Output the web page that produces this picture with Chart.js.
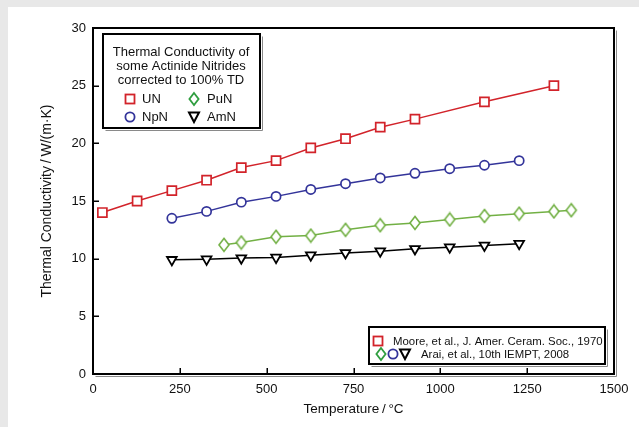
<!DOCTYPE html>
<html><head><meta charset="utf-8">
<script src="https://cdn.jsdelivr.net/npm/chart.js@4.4.1/dist/chart.umd.min.js"></script>
<style>html,body{margin:0;padding:0;background:#fff;overflow:hidden}#wrap{width:639px;height:427px;position:relative}</style>
</head><body><div id="wrap"><canvas id="c" width="639" height="427"></canvas></div>
<script>
// ---- data ----
const unTemps  = [27,127,227,327,427,527,627,727,827,927,1127,1327];
const unK      = [14.0,15.0,15.9,16.8,17.9,18.5,19.6,20.4,21.4,22.1,23.6,25.0];
const npnTemps = [227,327,427,527,627,727,827,927,1027,1127,1227];
const npnK     = [13.5,14.1,14.9,15.4,16.0,16.5,17.0,17.4,17.8,18.1,18.5];
const punTemps = [377,427,527,627,727,827,927,1027,1127,1227,1327,1377];
const punK     = [11.2,11.4,11.9,12.0,12.5,12.9,13.1,13.4,13.7,13.9,14.1,14.2];
const amnTemps = [227,327,427,527,627,727,827,927,1027,1127,1227];
const amnK     = [9.9,9.95,10.05,10.1,10.3,10.5,10.65,10.85,11.0,11.15,11.3];
const xTicks = [0,250,500,750,1000,1250,1500];
const yTicks = [0,5,10,15,20,25,30];
const seriesNames = ['UN','NpN','PuN','AmN'];
const boxTitle = ['Thermal Conductivity of','some Actinide Nitrides','corrected to 100% TD'];
const sourceNotes = ['Moore, et al., J. Amer. Ceram. Soc., 1970','Arai, et al., 10th IEMPT, 2008'];
const xTitle = 'Temperature\u2009/\u2009\u00B0C';
const yTitle = 'Thermal Conductivity\u2009/\u2009W/(m\u00B7K)';

const RED='#d2232a', BLUE='#33349a', GREEN='#72b044', GREEN2='#2f9e3f', BLACK='#000';
const FONT="'Liberation Sans', Arial, Helvetica, sans-serif";

function pts(xs, ys){ return xs.map((x,i)=>({x:x,y:ys[i]})); }

// diamond point style (taller than wide)
function makeDiamond(color){
  const c=document.createElement('canvas'); c.width=14; c.height=16;
  const g=c.getContext('2d');
  g.fillStyle='#fff'; g.strokeStyle=color; g.lineWidth=1.6;
  g.beginPath(); g.moveTo(7,1.5); g.lineTo(12,8); g.lineTo(7,14.5); g.lineTo(2,8); g.closePath();
  g.fill(); g.stroke(); return c;
}
const diamondImg = makeDiamond(GREEN);

// marker drawers for the legends
function mSquare(ctx,x,y,c){ctx.save();ctx.strokeStyle=c;ctx.lineWidth=1.8;ctx.strokeRect(x-4.5,y-4.5,9,9);ctx.restore();}
function mCircle(ctx,x,y,c){ctx.save();ctx.strokeStyle=c;ctx.lineWidth=1.8;ctx.beginPath();ctx.arc(x,y,4.6,0,Math.PI*2);ctx.stroke();ctx.restore();}
function mDiamond(ctx,x,y,c){ctx.save();ctx.strokeStyle=c;ctx.lineWidth=1.8;ctx.beginPath();ctx.moveTo(x,y-6);ctx.lineTo(x+4.6,y);ctx.lineTo(x,y+6);ctx.lineTo(x-4.6,y);ctx.closePath();ctx.stroke();ctx.restore();}
function mTri(ctx,x,y,c){ctx.save();ctx.strokeStyle=c;ctx.lineWidth=2;ctx.beginPath();ctx.moveTo(x-5,y-4.5);ctx.lineTo(x+5,y-4.5);ctx.lineTo(x,y+5);ctx.closePath();ctx.stroke();ctx.restore();}

function boxWithShadow(ctx,x,y,w,h){
  ctx.save();
  ctx.fillStyle='#fff'; ctx.fillRect(x,y,w,h);
  ctx.strokeStyle='#8a8a8a'; ctx.lineWidth=1;
  ctx.beginPath(); ctx.moveTo(x+2.5,y+h+2.5); ctx.lineTo(x+w+2.5,y+h+2.5); ctx.lineTo(x+w+2.5,y+2.5); ctx.stroke();
  ctx.strokeStyle='#000'; ctx.lineWidth=2; ctx.strokeRect(x,y,w,h);
  ctx.restore();
}

const decor = {
  id:'decor',
  beforeDraw(chart){
    const ctx=chart.ctx;
    ctx.save();
    ctx.fillStyle='#e8e8e8'; ctx.fillRect(0,0,chart.width,chart.height);
    ctx.fillStyle='#fff'; ctx.fillRect(8,7,chart.width-8,chart.height-7);
    ctx.restore();
  },
  afterDatasetsDraw(chart){
    const ctx=chart.ctx, a=chart.chartArea, xs=chart.scales.x, ys=chart.scales.y;
    ctx.save();
    // inward tick marks
    ctx.strokeStyle='#000'; ctx.lineWidth=1.5;
    ctx.beginPath();
    xs.ticks.forEach(t=>{const px=Math.round(xs.getPixelForValue(t.value))+0.25; ctx.moveTo(px,a.bottom); ctx.lineTo(px,a.bottom-6);});
    ys.ticks.forEach(t=>{const py=Math.round(ys.getPixelForValue(t.value))+0.25; ctx.moveTo(a.left,py); ctx.lineTo(a.left+6,py);});
    ctx.stroke();
    // frame with shadow
    ctx.strokeStyle='#8a8a8a'; ctx.lineWidth=1;
    ctx.beginPath(); ctx.moveTo(a.left+2.5,a.bottom+2.5); ctx.lineTo(a.right+2.5,a.bottom+2.5); ctx.lineTo(a.right+2.5,a.top+2.5); ctx.stroke();
    ctx.strokeStyle='#000'; ctx.lineWidth=2;
    ctx.strokeRect(a.left,a.top,a.right-a.left,a.bottom-a.top);
    ctx.restore();
  },
  afterDraw(chart){
    const ctx=chart.ctx;
    ctx.save();
    // legend 1
    boxWithShadow(ctx,103,34,157,94);
    ctx.fillStyle='#111'; ctx.font='13px '+FONT; ctx.textAlign='center'; ctx.textBaseline='middle';
    boxTitle.forEach((s,i)=>ctx.fillText(s,181,52+i*14));
    ctx.textAlign='left';
    mSquare(ctx,130,99,RED);   ctx.fillText(seriesNames[0],142,99.5);
    mDiamond(ctx,194,99,GREEN2); ctx.fillText(seriesNames[2],207,99.5);
    mCircle(ctx,130,117,BLUE);  ctx.fillText(seriesNames[1],142,117.5);
    mTri(ctx,194,117,BLACK);    ctx.fillText(seriesNames[3],207,117.5);
    // legend 2
    boxWithShadow(ctx,369,327,236,37);
    ctx.font='11.4px '+FONT; ctx.fillStyle='#111';
    mSquare(ctx,378,341,RED); ctx.fillText(sourceNotes[0],393,341.5);
    mDiamond(ctx,381,354,GREEN2); mCircle(ctx,393,354,BLUE); mTri(ctx,405,354,BLACK);
    ctx.fillText(sourceNotes[1],421,354.5);
    ctx.restore();
  }
};

Chart.defaults.font.family = FONT;
Chart.defaults.font.size = 13;
Chart.defaults.color = '#111';

new Chart(document.getElementById('c'), {
  type:'line',
  data:{ datasets:[
    {label:'UN', data:pts(unTemps,unK), borderColor:RED, borderWidth:1.5, pointStyle:'rect', pointRadius:6.4, pointBorderWidth:1.7, pointBorderColor:RED, pointBackgroundColor:'#fff'},
    {label:'NpN', data:pts(npnTemps,npnK), borderColor:BLUE, borderWidth:1.5, pointStyle:'circle', pointRadius:4.6, pointBorderWidth:1.7, pointBorderColor:BLUE, pointBackgroundColor:'#fff'},
    {label:'PuN', data:pts(punTemps,punK), borderColor:GREEN, borderWidth:1.5, pointStyle:diamondImg, pointRadius:6, pointBorderColor:GREEN, pointBackgroundColor:'#fff'},
    {label:'AmN', data:pts(amnTemps,amnK), borderColor:BLACK, borderWidth:1.5, pointStyle:'triangle', rotation:180, pointRadius:5.6, pointBorderWidth:1.8, pointBorderColor:BLACK, pointBackgroundColor:'#fff'}
  ]},
  options:{
    responsive:false, animation:false, devicePixelRatio:1,
    layout:{padding:{left:8,right:25,top:28,bottom:0}},
    plugins:{legend:{display:false}, tooltip:{enabled:false}},
    elements:{line:{tension:0}},
    scales:{
      x:{type:'linear', min:0, max:1500,
        afterBuildTicks:s=>{s.ticks=xTicks.map(v=>({value:v}));},
        afterFit:s=>{s.height=53;},
        grid:{display:false, drawTicks:false}, border:{display:false},
        ticks:{padding:8, maxRotation:0, autoSkip:false, color:'#111', font:{size:13}, callback:v=>String(v)},
        title:{display:true, text:xTitle, color:'#111', font:{size:13.5}, padding:{top:0,bottom:10}}
      },
      y:{type:'linear', min:0, max:30,
        afterBuildTicks:s=>{s.ticks=yTicks.map(v=>({value:v}));},
        afterFit:s=>{s.width=85;},
        grid:{display:false, drawTicks:false}, border:{display:false},
        ticks:{padding:7, autoSkip:false, color:'#111', font:{size:13}, callback:v=>String(v)},
        title:{display:true, text:yTitle, color:'#111', font:{size:14}, padding:{top:30.5,bottom:0}}
      }
    }
  },
  plugins:[decor]
});
</script>
</body></html>
